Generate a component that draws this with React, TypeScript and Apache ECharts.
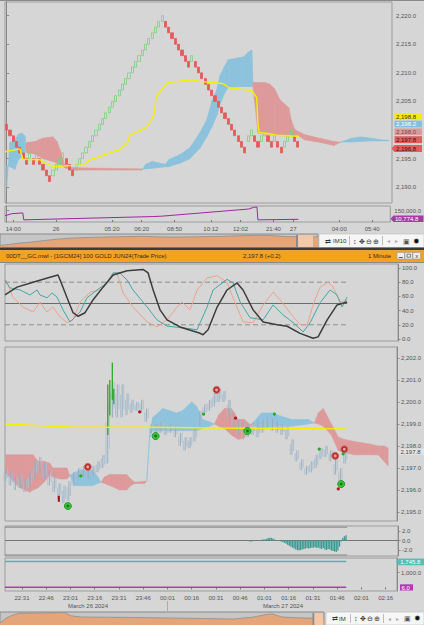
import React, { useEffect, useRef } from "react";
import * as echarts from "echarts";

const FONT = "'Liberation Sans', Arial, sans-serif";

// ---------------- TOP WINDOW (Renko, IM10) ----------------
const renkoCenters = [
  2200.5, 2199.5, 2198.5, 2197.5, 2196.5, 2195.5, 2194.5, 2195.5, 2194.5, 2195.5,
  2194.5, 2193.5, 2192.5, 2191.5, 2192.5, 2193.5, 2194.5, 2195.5, 2194.5, 2193.5,
  2192.5, 2193.5, 2194.5, 2195.5, 2196.5, 2197.5, 2198.5, 2199.5, 2200.5, 2201.5,
  2202.5, 2203.5, 2204.5, 2205.5, 2206.5, 2207.5, 2208.5, 2209.5, 2210.5, 2211.5,
  2212.5, 2213.5, 2214.5, 2215.5, 2216.5, 2217.5, 2218.5, 2219.5, 2218.5, 2217.5,
  2216.5, 2215.5, 2214.5, 2213.5, 2212.5, 2211.5, 2212.5, 2211.5, 2210.5, 2209.5,
  2208.5, 2207.5, 2206.5, 2205.5, 2204.5, 2203.5, 2202.5, 2201.5, 2200.5, 2199.5,
  2198.5, 2197.5, 2196.5, 2198.5, 2199.5, 2198.5, 2197.5, 2198.5, 2199.5, 2198.5,
  2197.5, 2198.5, 2197.5, 2196.5, 2197.5, 2198.5, 2199.5, 2198.5, 2197.5,
];
const topColumnCount = 117;
const topTickCols = [2, 15, 32, 41, 51, 62, 71, 81, 87, 101, 111];
const topTickLabels = ["14:00", "26", "05:20", "06:20", "08:50", "10:12", "12:02", "21:40", "27", "04:00", "05:40"];
const topPriceTicks = [2190, 2195, 2205, 2210, 2215, 2220];

const topCloudCols = [0, 1, 2.5, 3.5, 4.6, 5.5, 5.8, 6.1, 8.6, 10.1, 11, 14, 15.2, 16.1, 17, 17.6, 20, 30, 41, 42,
  44, 48, 49, 52.4, 55.4, 58.4, 60.5, 62, 63.5, 64.5, 65.9, 67, 71.7, 73, 74.1, 74.5, 76, 78.1, 79.6, 81,
  82.6, 85.3, 86, 87.1, 88.3, 90, 95, 99, 101, 104, 107, 110, 113, 115.5];
const topSpanA = [2190.0, 2197.8, 2198.3, 2199.2, 2199.5, 2199.0, 2197.2, 2196.0, 2195.8, 2195.3,
  2195.0, 2194.5, 2194.2, 2194.0, 2193.7, 2193.4, 2193.0, 2193.0, 2193.0, 2194.0,
  2194.5, 2194.0, 2194.8, 2195.7, 2196.9, 2199.5, 2201.8, 2205.0, 2207.0, 2209.5,
  2211.2, 2212.3, 2212.8, 2213.6, 2214.0, 2207.5, 2199.5, 2199.3, 2199.2, 2199.1,
  2199.0, 2199.0, 2199.0, 2199.1, 2199.0, 2198.3, 2197.8, 2197.3, 2197.9, 2198.5,
  2198.8, 2198.6, 2198.3, 2198.2];
const topSpanB = [2193.8, 2193.6, 2193.1, 2194.8, 2195.3, 2196.0, 2197.2, 2197.8, 2198.0, 2198.4,
  2198.6, 2198.8, 2198.0, 2196.6, 2194.8, 2193.8, 2193.4, 2193.3, 2193.2, 2193.2,
  2193.3, 2193.6, 2193.6, 2194.2, 2195.0, 2196.8, 2198.8, 2200.5, 2202.5, 2204.5,
  2206.5, 2207.5, 2207.6, 2207.6, 2207.6, 2208.3, 2208.3, 2208.3, 2208.0, 2207.2,
  2205.3, 2203.9, 2201.8, 2200.1, 2199.7, 2199.2, 2198.5, 2198.0, 2197.9, 2197.9,
  2198.0, 2198.1, 2198.1, 2198.1];

const topYellowCols = [-0.5, 4, 4.9, 10.1, 11.3, 14, 23.1, 25.2, 28.2, 34.2, 36.4, 37.3, 42.4, 44.2, 44.8, 45.1,
  47.2, 48.7, 56.3, 58.4, 62, 65.6, 67.2, 74.1, 75.6, 75.9, 76.3, 78.7, 81.7, 88.3];
const topYellowVals = [2196.2, 2196.7, 2194.9, 2194.8, 2194.3, 2193.6, 2193.9, 2194.8, 2195.4, 2196.6, 2197.7, 2199.1,
  2200.5, 2202.2, 2203.4, 2205.7, 2207.4, 2208.3, 2208.8, 2208.5, 2208.3, 2208.1, 2207.4, 2206.9, 2205.7,
  2201.7, 2199.6, 2199.4, 2199.1, 2198.9];

const topCumCols = [-0.5, 1.6, 4.9, 5.2, 44.2, 47, 73.5, 75, 76, 76.3, 88.6];
const topCumVals = [68000, 100000, 112000, 2000, 54000, 60000, 173000, 200000, 205000, 2000, 10774.8];

const topNavPos = [0, 3, 6, 10, 14, 18, 22, 26, 30, 35, 40, 45, 50, 55, 60, 65, 70, 75, 80, 85, 90, 95, 100];
const topNavVals = [0.12, 0.2, 0.3, 0.38, 0.5, 0.6, 0.68, 0.72, 0.75, 0.78, 0.8, 0.82, 0.78, 0.76, 0.78, 0.8,
  0.82, 0.86, 0.9, 0.88, 0.8, 0.78, 0.78];

// ---------------- BOTTOM WINDOW (1 Minute) ----------------
// x unit: minutes after 22:00, March 26 2024
const botTickMinutes = [31, 46, 61, 76, 91, 106, 121, 136, 151, 166, 181, 196, 211, 226, 241, 256];

const oscBlack = [[20.5, 62], [27.9, 73], [37.8, 80], [48.3, 87], [53.2, 90], [54.5, 83], [58.8, 58], [62.5, 37],
  [65.6, 32], [69.9, 37], [74.8, 55], [81, 73], [87.2, 90], [95.8, 96], [105.7, 98], [108.8, 93], [111.9, 69],
  [116.2, 41], [120.5, 27], [128.5, 17], [140.9, 8], [142.7, 6], [145.8, 13], [151.4, 45], [157.5, 69],
  [163.7, 79], [167.4, 69], [173.6, 41], [179.8, 24], [188.4, 20], [194.6, 18], [202.6, 8], [210.6, 1],
  [213.7, 3], [219.3, 27], [225.4, 48], [231.6, 52]];
const oscTeal = [[20.5, 83], [23.6, 72], [29.8, 69], [35.9, 62], [40.3, 69], [42.1, 62], [46.4, 58], [49.5, 65],
  [52.6, 59], [56.3, 41], [60.6, 24], [66.8, 38], [71.1, 58], [77.3, 69], [83.5, 79], [87.2, 93], [91.5, 93],
  [95.8, 83], [99.5, 69], [108.2, 45], [114.3, 27], [120.5, 18], [132.9, 15], [139, 13], [145.2, 45],
  [148.9, 69], [157.5, 84], [161.2, 79], [165.6, 52], [171.7, 30], [179.8, 27], [185.9, 48], [192.1, 34],
  [198.3, 23], [204.5, 10], [208.8, 23], [214.9, 51], [221.1, 69], [225.4, 62], [228.5, 45], [231.6, 59]];
const oscSalmon = [[20.5, 86], [25.4, 59], [31.6, 45], [37.8, 38], [42.1, 52], [46.4, 38], [50.1, 45], [54.5, 31],
  [58.8, 23], [62.5, 27], [66.8, 52], [73, 66], [79.1, 69], [83.5, 80], [87.2, 93], [89.6, 93], [93.3, 65],
  [99.5, 45], [108.2, 24], [114.3, 17], [120.5, 27], [126.7, 45], [129.8, 52], [134.7, 41], [139, 69],
  [145.2, 86], [151.4, 89], [157.5, 80], [161.2, 58], [167.4, 24], [173.6, 23], [179.8, 48], [185.9, 66],
  [190.3, 55], [196.4, 37], [202.6, 20], [207, 20], [210.6, 48], [214.9, 73], [219.9, 80], [223, 73],
  [227.3, 52], [231.6, 55]];

const barStart = 21;
const barStep = 3;
const barHigh = [2197.0, 2196.8, 2196.6, 2196.7, 2196.5, 2196.8, 2197.3, 2197.5, 2197.2, 2196.9,
  2196.6, 2196.3, 2196.2, 2196.4, 2196.8, 2197.0, 2197.1, 2197.0, 2197.1, 2197.3,
  2197.6, 2199.9, 2200.9, 2200.8, 2200.8, 2200.4, 2200.1, 2200.0, 2200.1, 2199.7,
  2199.0, 2199.0, 2199.1, 2198.9, 2199.0, 2198.9, 2198.6, 2198.4, 2198.4, 2198.9,
  2199.6, 2199.9, 2200.1, 2200.4, 2200.6, 2200.5, 2200.1, 2199.5, 2199.2, 2199.1,
  2199.0, 2199.1, 2199.2, 2199.2, 2199.3, 2199.2, 2199.1, 2199.0, 2198.9, 2198.3,
  2197.8, 2197.4, 2197.1, 2197.3, 2197.6, 2197.9, 2198.0, 2197.8, 2197.4, 2197.0, 2197.9];
const barLow = [2196.4, 2196.2, 2196.0, 2196.1, 2195.9, 2196.1, 2196.5, 2196.8, 2196.5, 2196.2,
  2195.9, 2195.6, 2195.4, 2195.5, 2196.2, 2196.5, 2196.6, 2196.5, 2196.6, 2196.8,
  2197.0, 2197.2, 2199.3, 2199.3, 2199.3, 2199.4, 2199.5, 2199.6, 2199.5, 2199.1,
  2198.6, 2198.5, 2198.6, 2198.5, 2198.6, 2198.4, 2198.0, 2197.8, 2197.9, 2198.2,
  2198.9, 2199.4, 2199.6, 2199.8, 2200.0, 2200.0, 2199.3, 2198.9, 2198.5, 2198.3,
  2198.4, 2198.5, 2198.4, 2198.6, 2198.8, 2198.7, 2198.6, 2198.5, 2198.3, 2197.6,
  2197.3, 2196.9, 2196.7, 2196.8, 2197.0, 2197.4, 2197.5, 2197.3, 2196.7, 2196.3, 2197.2];

const greenBarT = [84.1, 85.3, 86.9, 87.8];
const greenBarLow = [2198.5, 2199.4, 2200.1, 2199.9];
const greenBarHigh = [2200.8, 2201.0, 2201.8, 2200.6];

const botCloudT = [20.5, 29.8, 35.9, 37.8, 41.0, 45.2, 48.3, 50.1, 54.5, 58.8, 60.6, 63.7, 66.8, 71.7, 74.8, 77.9,
  79.8, 82.2, 85.3, 91.5, 95.8, 98.3, 100.8, 106.9, 108.2, 110.0, 111.9, 118.1, 122.4, 126.7, 130.4, 135.9,
  139.0, 142.7, 147.0, 150.1, 152.6, 156.3, 160.6, 164.9, 168.7, 171.7, 173.6, 176.7, 179.1, 186.6, 189.6,
  197.7, 208.2, 211.9, 214.3, 217.4, 222.4, 226.7, 230.4, 236.6, 245.2, 251.4, 255.1, 257.5];
const botSpanA = [2196.8, 2196.1, 2195.9, 2196.0, 2196.1, 2196.4, 2196.7, 2196.6, 2196.5, 2196.5,
  2196.65, 2196.8, 2196.9, 2196.9, 2196.9, 2196.6, 2196.35, 2196.3, 2196.2, 2196.0,
  2196.0, 2196.2, 2196.3, 2196.3, 2196.4, 2198.5, 2199.3, 2199.7, 2199.6, 2199.5,
  2199.6, 2200.0, 2199.8, 2199.2, 2199.1, 2199.0, 2198.9, 2198.8, 2198.5, 2198.3,
  2198.4, 2198.8, 2199.0, 2199.3, 2199.5, 2199.5, 2199.4, 2199.2, 2199.2, 2199.05,
  2199.0, 2198.9, 2198.5, 2197.8, 2197.7, 2197.6, 2197.6, 2197.6, 2197.3, 2197.1];
const botSpanB = [2197.6, 2197.6, 2197.6, 2197.6, 2197.3, 2197.3, 2197.2, 2197.0, 2197.0, 2197.0,
  2196.65, 2196.2, 2196.2, 2196.2, 2196.2, 2196.3, 2196.35, 2196.6, 2196.7, 2196.7,
  2196.7, 2196.5, 2196.35, 2196.4, 2196.4, 2198.4, 2198.7, 2198.7, 2198.7, 2198.7,
  2198.7, 2198.7, 2198.7, 2198.8, 2198.9, 2199.0, 2199.4, 2199.7, 2199.7, 2199.2,
  2199.2, 2199.0, 2199.0, 2198.8, 2198.8, 2198.9, 2198.9, 2198.9, 2199.0, 2199.05,
  2199.5, 2199.7, 2199.0, 2198.4, 2198.3, 2198.2, 2198.1, 2198.0, 2198.0, 2197.9];

const botYellowT = [20.5, 63, 110, 150, 190, 231.6];
const botYellowVals = [2199.0, 2198.85, 2198.85, 2198.82, 2198.8, 2198.78];

const sellCircles = [[71.7, 2197.05], [151.4, 2200.55], [224.8, 2197.55], [230.4, 2197.85]];
const buyCircles = [[59.4, 2195.27], [113.7, 2198.45], [170.5, 2198.68], [228.5, 2196.27]];
const redDots = [[103.8, 2199.55], [163.1, 2199.27], [226.7, 2196.05]];
const greenDots = [[67.4, 2196.64], [143.3, 2199.45], [187.2, 2199.45], [214.9, 2197.86], [229.7, 2197.64]];
const flagPts = [[53.8, 2195.6]];

const macdStart = 171;
const macdVals = [-0.15, -0.2, -0.2, -0.1, 0, -0.05, 0.05, 0.1, 0.15, 0.2, 0.25, 0.35, 0.5, 0.6, 0.55, 0.4,
  0.2, 0.05, -0.05, -0.1, -0.2, -0.3, -0.5, -0.7, -0.9, -1.1, -1.3, -1.5, -1.7, -1.9, -2.0, -2.1, -2.0, -1.9,
  -1.8, -1.7, -1.6, -1.7, -1.6, -1.5, -1.5, -1.4, -1.6, -1.5, -1.7, -1.8, -1.6, -1.9, -2.0, -1.8, -1.9, -2.1,
  -2.2, -2.3, -2.4, -2.1, -1.3, -0.2, 0.5, 0.9, 1.1];

const volCyan = 1745.8;
const volPurple = 6.0;

const navBotPos = [0, 2, 4, 6, 10, 15, 20, 22, 25, 31, 40, 52, 62, 72, 78, 82, 84, 87, 92, 97, 100];
const navBotVals = [0.15, 0.55, 0.77, 0.9, 0.92, 0.93, 0.95, 0.7, 0.62, 0.6, 0.58, 0.54, 0.5, 0.46, 0.6, 0.8,
  0.85, 0.62, 0.55, 0.52, 0.52];

// ---------------- helpers ----------------
const fmt1 = (v: number) => v.toLocaleString("en-US", { minimumFractionDigits: 1, maximumFractionDigits: 1 });
const minToClock = (v: number) => {
  const m = Math.round(v);
  const h = (22 + Math.floor(m / 60)) % 24;
  const mm = m % 60;
  return (h < 10 ? "0" : "") + h + ":" + (mm < 10 ? "0" : "") + mm;
};

const labelBase = { color: "#555", fontSize: 6, fontFamily: FONT };

function yAxisR(gridIndex: number, min: number, max: number, values: number[], fmt?: (v: number) => string) {
  return {
    type: "value", gridIndex, position: "right", min, max,
    axisLine: { show: true, lineStyle: { color: "#8a8a8a", width: 1 } },
    axisTick: { show: true, length: 2.5, customValues: values, lineStyle: { color: "#8a8a8a" } },
    axisLabel: { ...labelBase, margin: 4, customValues: values, formatter: fmt || ((v: number) => fmt1(v)) },
    splitLine: { show: false },
  };
}
function hiddenY(gridIndex: number, min: number, max: number) {
  return { type: "value", gridIndex, min, max, show: false, splitLine: { show: false } };
}
function hiddenX(gridIndex: number, min: number, max: number) {
  return { type: "value", gridIndex, min, max, show: false, splitLine: { show: false } };
}

function cloudSeries(xAxisIndex: number, yAxisIndex: number, xs: number[], as: number[], bs: number[], blue: string, red: string) {
  const data = xs.slice(0, -1).map((x, i) => [x, as[i], bs[i], xs[i + 1], as[i + 1], bs[i + 1]]);
  return {
    type: "custom", xAxisIndex, yAxisIndex, silent: true, clip: true, z: 1,
    data,
    encode: { x: [0, 3], y: [1, 2, 4, 5] },
    renderItem: (_p: any, api: any) => {
      const x0 = api.value(0), a0 = api.value(1), b0 = api.value(2);
      const x1 = api.value(3), a1 = api.value(4), b1 = api.value(5);
      const pts = [api.coord([x0, a0]), api.coord([x1, a1]), api.coord([x1, b1]), api.coord([x0, b0])];
      const isBlue = a0 + a1 >= b0 + b1;
      const c = isBlue ? blue : red;
      return { type: "polygon", shape: { points: pts }, style: { fill: c, stroke: c, lineWidth: 0.6 } };
    },
  };
}

function line(xAxisIndex: number, yAxisIndex: number, data: any[], color: string, width = 1, extra: any = {}) {
  return {
    type: "line", xAxisIndex, yAxisIndex, data, symbol: "none", silent: true,
    lineStyle: { color, width, ...(extra.lineStyle || {}) }, z: extra.z || 3, ...(extra.area ? { areaStyle: extra.area } : {}),
  };
}

function txt(x: number, y: number, text: string, o: any = {}) {
  return {
    type: "text", x, y, z: 100, silent: true,
    style: {
      text, fill: o.fill || "#333", fontSize: o.size || 6, fontFamily: FONT, fontWeight: o.weight || "normal",
      align: o.align || "left", verticalAlign: "middle",
    },
  };
}
function rect(x: number, y: number, w: number, h: number, fill: string, stroke?: string) {
  return {
    type: "rect", z: 95, silent: true, shape: { x, y, width: w, height: h },
    style: { fill, stroke: stroke || null, lineWidth: stroke ? 0.6 : 0 },
  };
}
function tag(x: number, y: number, w: number, h: number, fill: string, text: string, color: string, arrow = false) {
  const pts = arrow
    ? [[x - 3, y + h / 2], [x, y], [x + w, y], [x + w, y + h], [x, y + h]]
    : [[x, y], [x + w, y], [x + w, y + h], [x, y + h]];
  return [
    { type: "polygon", z: 98, silent: true, shape: { points: pts }, style: { fill } },
    txt(x + 1.5, y + h / 2 + 0.3, text, { fill: color }),
  ];
}

function buildOption() {
  const renkoData = renkoCenters.map((c, i) => {
    const up = i > 0 && c > renkoCenters[i - 1];
    return up ? [c - 0.5, c + 0.5, c - 0.5, c + 0.5] : [c + 0.5, c - 0.5, c - 0.5, c + 0.5];
  });
  const cats = Array.from({ length: topColumnCount }, (_, i) => String(i));

  const grids = [
    { left: 5, top: 2, width: 387, height: 201 },
    { left: 5, top: 206, width: 387, height: 16 },
    { left: 0, top: 234, width: 318, height: 13, backgroundColor: "#c6c6c6", borderColor: "#8a8a8a" },
    { left: 5, top: 264, width: 393, height: 77 },
    { left: 5, top: 347, width: 393, height: 174 },
    { left: 5, top: 526, width: 393, height: 30 },
    { left: 5, top: 558, width: 393, height: 33 },
    { left: 0, top: 612, width: 324, height: 13, backgroundColor: "#c6c6c6", borderColor: "#8a8a8a" },
  ].map((g: any) => ({ show: true, borderWidth: 1, borderColor: "#9c9c9c", backgroundColor: "transparent", ...g }));

  const xAxis: any[] = [
    { type: "category", gridIndex: 0, data: cats, show: false, boundaryGap: true },
    hiddenX(0, -0.5, topColumnCount - 0.5),
    {
      type: "value", gridIndex: 1, min: -0.5, max: topColumnCount - 0.5, position: "bottom",
      axisLine: { show: false },
      axisTick: { show: true, length: 2, customValues: topTickCols, lineStyle: { color: "#777" } },
      axisLabel: {
        ...labelBase, margin: 4, customValues: topTickCols,
        formatter: (v: number) => topTickLabels[topTickCols.indexOf(Math.round(v))] || "",
      },
      splitLine: { show: false },
    },
    hiddenX(2, 0, 100),
    hiddenX(3, 20.5, 263),
    hiddenX(4, 20.5, 263),
    hiddenX(5, 20.5, 263),
    {
      type: "value", gridIndex: 6, min: 20.5, max: 263, position: "bottom",
      axisLine: { show: false },
      axisTick: { show: true, length: 2, customValues: botTickMinutes, lineStyle: { color: "#777" } },
      axisLabel: { ...labelBase, margin: 4, customValues: botTickMinutes, formatter: (v: number) => minToClock(v) },
      splitLine: { show: false },
    },
    hiddenX(7, 0, 100),
  ];

  const yAxis: any[] = [
    yAxisR(0, 2187.24, 2222.39, topPriceTicks),
    yAxisR(1, -31942, 221195, [150000]),
    hiddenY(2, 0, 1),
    yAxisR(3, -2.8, 105.6, [0, 20, 40, 60, 80, 100]),
    yAxisR(4, 2194.59, 2202.5, [2195, 2196, 2197, 2198, 2199, 2200, 2201, 2202]),
    yAxisR(5, -3.26, 3.05, [-2, 0, 2]),
    yAxisR(6, -243, 1981.7, [1000]),
    hiddenY(7, 0, 1),
  ];

  const series: any[] = [];
  series.push(cloudSeries(1, 0, topCloudCols, topSpanA, topSpanB, "#8cc2dc", "#de9a9b"));
  series.push({
    type: "candlestick", xAxisIndex: 0, yAxisIndex: 0, data: renkoData, barWidth: 2.6, z: 3, silent: true,
    itemStyle: { color: "rgba(0,0,0,0)", borderColor: "#7fcf7f", color0: "#e65a5c", borderColor0: "#e65a5c", borderWidth: 0.8 },
  });
  series.push(line(1, 0, topYellowCols.map((c, i) => [c, topYellowVals[i]]), "#f4ef00", 1.4, { z: 5 }));
  series.push(line(2, 1, topCumCols.map((c, i) => [c, topCumVals[i]]), "#a0269e", 1));
  series.push(line(3, 2, topNavPos.map((p, i) => [p, topNavVals[i]]), "#8f8f8f", 0.8, { area: { color: "#e6a479", opacity: 1 } }));

  const oscEnd = 231.6;
  series.push(line(4, 3, [[20.5, 50], [oscEnd, 50]], "#6a6a6a", 1, { z: 2 }));
  series.push(line(4, 3, [[20.5, 80], [oscEnd, 80]], "#7a7a7a", 0.8, { z: 2, lineStyle: { type: [5, 3] } }));
  series.push(line(4, 3, [[20.5, 20], [oscEnd, 20]], "#7a7a7a", 0.8, { z: 2, lineStyle: { type: [5, 3] } }));
  series.push(line(4, 3, oscSalmon, "#e9a48c", 1));
  series.push(line(4, 3, oscTeal, "#46a7a3", 1));
  series.push(line(4, 3, oscBlack, "#3c3c3c", 1.5));

  series.push(cloudSeries(5, 4, botCloudT, botSpanA, botSpanB, "#8fc3dd", "#de9a9b"));
  series.push({
    type: "custom", xAxisIndex: 5, yAxisIndex: 4, silent: true, z: 3,
    data: barHigh.map((h, i) => [barStart + i * barStep, barLow[i], h]),
    encode: { x: 0, y: [1, 2] },
    renderItem: (_p: any, api: any) => {
      const t = api.value(0);
      const lo = api.value(1), hi = api.value(2);
      const r = hi - lo;
      const mk = (dt: number, a: number, b: number, c: string) => {
        const p = api.coord([t + dt, a]);
        const q = api.coord([t + dt, b]);
        return { type: "line", shape: { x1: p[0], y1: p[1], x2: q[0], y2: q[1] }, style: { stroke: c, lineWidth: 0.9 } };
      };
      return {
        type: "group", children: [
          mk(-1, lo, lo + r * 0.7, "#a9bdce"),
          mk(0, lo, hi, "#93abc1"),
          mk(1, lo + r * 0.25, hi, "#a9bdce"),
        ],
      };
    },
  });
  series.push({
    type: "custom", xAxisIndex: 5, yAxisIndex: 4, silent: true, z: 4,
    data: greenBarT.map((t, i) => [t, greenBarLow[i], greenBarHigh[i]]),
    encode: { x: 0, y: [1, 2] },
    renderItem: (_p: any, api: any) => {
      const t = api.value(0);
      const a = api.coord([t, api.value(1)]);
      const b = api.coord([t, api.value(2)]);
      return { type: "line", shape: { x1: a[0], y1: a[1], x2: b[0], y2: b[1] }, style: { stroke: "#2fa82f", lineWidth: 1.3 } };
    },
  });
  series.push(line(5, 4, botYellowT.map((t, i) => [t, botYellowVals[i]]), "#f4ef00", 1.4, { z: 5 }));
  const scatter = (data: any[], size: any, color: string, border?: string, symbol = "circle") => ({
    type: "scatter", xAxisIndex: 5, yAxisIndex: 4, data, symbol, symbolSize: size, silent: true, z: 6,
    itemStyle: { color, borderColor: border || color, borderWidth: border ? 1 : 0, opacity: 1 },
  });
  series.push(scatter(sellCircles, 7, "#b02c2c", "#d66a6a"));
  series.push(scatter(sellCircles, 3, "#e6a0a0", undefined));
  series.push(scatter(buyCircles, 7, "#3cc43c", "#1f9a1f"));
  series.push(scatter(buyCircles, 3, "#1a7a1a", undefined));
  series.push(scatter(redDots, 3.2, "#b01c1c"));
  series.push(scatter(greenDots, 3.2, "#1fb01f"));
  series.push(scatter(flagPts, [2, 6], "#9a1010", undefined, "rect"));

  series.push(line(6, 5, [[20.5, 0], [263, 0]], "#777", 1, { z: 2 }));
  series.push(line(6, 5, [[20.5, 2.8], [231.6, 2.8]], "#888", 1, { z: 2 }));
  series.push(line(6, 5, [[20.5, -3.05], [231.6, -3.05]], "#888", 1, { z: 2 }));
  series.push({
    type: "custom", xAxisIndex: 6, yAxisIndex: 5, silent: true, z: 3,
    data: macdVals.map((v, i) => [macdStart + i, v]),
    encode: { x: 0, y: 1 },
    renderItem: (_p: any, api: any) => {
      const t = api.value(0), v = api.value(1);
      const a = api.coord([t - 0.5, 0]);
      const b = api.coord([t + 0.5, v]);
      return {
        type: "rect",
        shape: { x: a[0], y: Math.min(a[1], b[1]), width: Math.max(0.6, b[0] - a[0] - 0.3), height: Math.abs(b[1] - a[1]) },
        style: { fill: "#3a9a93" },
      };
    },
  });

  series.push(line(7, 6, [[20.5, volCyan], [231.6, volCyan]], "#49b9b2", 1.5));
  series.push(line(7, 6, [[20.5, volPurple], [231.6, volPurple]], "#b03cb0", 1.5));

  series.push(line(8, 7, navBotPos.map((p, i) => [p, navBotVals[i]]), "#8f8f8f", 0.8, { area: { color: "#e6a479", opacity: 1 } }));

  const graphic: any[] = [
    rect(0, 0, 424, 1, "#8a8a8a"),
    rect(298, 235, 15, 12, "#f2c8a8"),
    rect(296, 235, 2, 12, "#8a8a8a"),
    rect(319, 234, 105, 13.5, "#f6f6f6", "#bdbdbd"),
    txt(325, 241, "⇄", { fill: "#333", size: 7 }),
    txt(333, 241, "IM10", { fill: "#333" }),
    rect(349, 236, 0.6, 9, "#999"),
    txt(353, 241, "↕", { fill: "#333", size: 7 }),
    txt(359, 241, "✥", { fill: "#333", size: 7 }),
    txt(366, 241, "⊖", { fill: "#333", size: 7 }),
    txt(373, 241, "⊕", { fill: "#333", size: 7 }),
    rect(382, 236, 0.6, 9, "#999"),
    txt(387, 241, "◂", { fill: "#aaa", size: 6 }),
    txt(395, 241, "▸", { fill: "#aaa", size: 6 }),
    txt(403, 241, "▣", { fill: "#555", size: 7 }),
    txt(413, 241, "✹", { fill: "#111", size: 8 }),
    rect(0, 247.5, 424, 2.8, "#3a3a3a"),
    rect(0, 250.3, 424, 11.7, "#f7a21d"),
    rect(0, 262, 424, 1, "#8a8a8a"),
    txt(6, 256.3, "00DT__GC.mwl - [1GCM24] 100 GOLD JUN24(Trade Price)", { fill: "#2a2a2a" }),
    txt(243, 256.3, "2,197.8 (+0.2)", { fill: "#2a2a2a" }),
    txt(368, 256.3, "1 Minute", { fill: "#2a2a2a" }),
    rect(397, 252.5, 7.5, 6.5, "#eeeeee", "#9a9a9a"),
    rect(405, 252.5, 7.5, 6.5, "#eeeeee", "#9a9a9a"),
    rect(413, 252.5, 7.5, 6.5, "#eeeeee", "#9a9a9a"),
    rect(398.8, 257, 4, 0.8, "#333"),
    rect(407, 254.2, 3.6, 3, "none", "#333"),
    txt(416.8, 256, "x", { fill: "#333", size: 6, align: "center" }),
    txt(88, 606, "March 26 2024", { fill: "#555", align: "center" }),
    txt(283, 606, "March 27 2024", { fill: "#555", align: "center" }),
    rect(167, 601, 0.7, 10, "#9a9a9a"),
    rect(314, 613, 9, 12, "#f2c8a8"),
    rect(312.5, 613, 1.8, 12, "#8a8a8a"),
    rect(326, 612, 98, 13, "#f6f6f6", "#bdbdbd"),
    txt(332, 618.5, "⇄", { fill: "#333", size: 7 }),
    txt(339, 618.5, "IM", { fill: "#333" }),
    rect(350, 614, 0.6, 9, "#999"),
    txt(354, 618.5, "↕", { fill: "#333", size: 7 }),
    txt(360, 618.5, "✥", { fill: "#333", size: 7 }),
    txt(367, 618.5, "⊖", { fill: "#333", size: 7 }),
    txt(374, 618.5, "⊕", { fill: "#333", size: 7 }),
    rect(383, 614, 0.6, 9, "#999"),
    txt(388, 618.5, "◂", { fill: "#aaa", size: 6 }),
    txt(396, 618.5, "▸", { fill: "#aaa", size: 6 }),
    txt(404, 618.5, "▣", { fill: "#555", size: 7 }),
    txt(414, 618.5, "✹", { fill: "#111", size: 8 }),
    ...tag(394.5, 113, 27.5, 6.7, "#f2ee00", "2,198.8", "#333"),
    ...tag(394.5, 120.7, 27.5, 6.7, "#86bfdc", "2,198.2", "#ffffff"),
    ...tag(394.5, 128.4, 27.5, 6.7, "#d89c9c", "2,198.0", "#7a4545"),
    ...tag(394.5, 136.2, 27.5, 6.9, "#e25c5c", "2,197.8", "#3a1010"),
    ...tag(394.5, 145, 27.5, 6.9, "#e25c5c", "2,196.8", "#3a1010", true),
    ...tag(393.5, 215.6, 30, 6.5, "#a53ca5", "10,774.8", "#ffffff", true),
    ...tag(399, 448.6, 25, 6.4, "#e2e2e2", "2,197.8", "#444"),
    ...tag(398.8, 558.6, 25.2, 6.6, "#58bdb5", "1,745.8", "#ffffff", true),
    ...tag(400, 584.3, 13, 6.2, "#b03ab0", "6.0", "#ffffff"),
  ];

  return {
    animation: false,
    backgroundColor: "#d6d6d6",
    grid: grids,
    xAxis,
    yAxis,
    series,
    graphic,
  };
}

export default function App() {
  const ref = useRef<HTMLDivElement>(null);
  useEffect(() => {
    document.body.style.margin = "0";
    const chart = echarts.init(ref.current as HTMLDivElement, null, { renderer: "svg" });
    chart.setOption(buildOption() as any);
    return () => chart.dispose();
  }, []);
  return <div ref={ref} style={{ width: 424, height: 625, position: "absolute", left: 0, top: 0 }} />;
}
